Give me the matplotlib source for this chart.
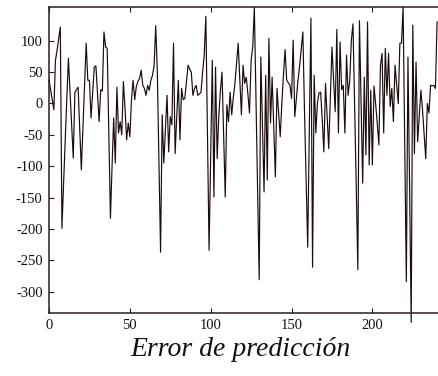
import numpy as np
import matplotlib
matplotlib.use("Agg")
import matplotlib.pyplot as plt

plt.rcParams["font.family"] = ["Liberation Serif", "DejaVu Serif"]
plt.rcParams["axes.unicode_minus"] = False

# prediction error per sample
error = [
    37, 22, 6, -10, 69, 85, 103, 122, -199, -128,
    -60, 8, 72, 18, -33, -87, 18, 22, 26, -40,
    -106, -36, 30, 96, 37, 37, -23, 18, 58, 60,
    15, -29, 22, 20, 114, 90, 88, -50, -183, -100,
    -23, -95, 26, -47, -29, -50, 35, -7, -58, -31,
    -53, 6, 37, 6, 27, 35, 40, 53, 29, 24,
    13, 29, 21, 37, 45, 60, 124, 50, -90, -237,
    -18, -95, -40, 13, -77, -21, -34, 96, -80, -20,
    37, -58, 24, 6, 8, 35, 61, 55, 50, 13,
    24, 29, 13, 15, 18, 50, 77, 139, -50, -234,
    -80, 69, -149, 58, -88, -20, 20, 50, -50, -149,
    -2, -29, 18, -18, 10, 32, 64, 96, 40, -18,
    61, 32, 42, 15, -15, 69, 90, 154, 10, -135,
    -281, 74, -35, -141, 45, -122, 104, -31, 42, -40,
    -117, 24, -15, -53, 0, 45, 86, 37, 33, 29,
    8, 101, -21, 8, 37, 60, 87, 114, -10, -120,
    -229, -40, 136, -261, 45, -47, 0, 17, 18, -26,
    -77, 32, -20, -72, 10, 90, 40, -13, 118, -47,
    98, 22, 29, -47, 77, 13, 37, 101, 127, 0,
    -130, -265, 132, 0, -127, 42, -82, 130, -98, 21,
    -98, 28, 0, -31, -66, 61, 80, -47, 88, 13,
    80, -5, 24, -29, 61, 30, 0, 96, 96, 154,
    -65, -284, 74, -130, -349, 125, -80, 66, -61, -20,
    21, -10, -50, -88, 0, -15, 29, 28, 29, 24,
    130,
]
samples = np.arange(len(error))

xticks = [0, 50, 100, 150, 200]
yticks = [100, 50, 0, -50, -100, -150, -200, -250, -300]
title = "Error de predicción"

ink = "#1c0c0c"
frame = "#2b1b1b"

fig = plt.figure(figsize=(4.39, 3.76), dpi=100)
ax = fig.add_axes([49 / 439, 1 - 313 / 376, 1 - 49 / 439, (313 - 6.7) / 376])

ax.plot(samples, error, color=ink, linewidth=0.85, clip_on=False)

ax.set_xlim(0, 241.2)
ax.set_ylim(-334, 154.3)
ax.set_xticks(xticks)
ax.set_xticklabels([str(t) for t in xticks])
ax.set_yticks(yticks)
ax.set_yticklabels([str(t) for t in yticks])

for side in ("left", "bottom", "top"):
    ax.spines[side].set_color(frame)
    ax.spines[side].set_linewidth(1.1)
ax.spines["right"].set_visible(False)

ax.tick_params(axis="both", direction="in", length=3.5, width=0.8,
               color=frame, labelsize=10.5, labelcolor="#111111", pad=4.5)
ax.tick_params(axis="x", top=True)

fig.text(240.5 / 439, 1 - 349 / 376, title, ha="center", va="center",
         fontsize=20, style="italic", color="#111111")

fig.savefig("out.png", dpi=100)
